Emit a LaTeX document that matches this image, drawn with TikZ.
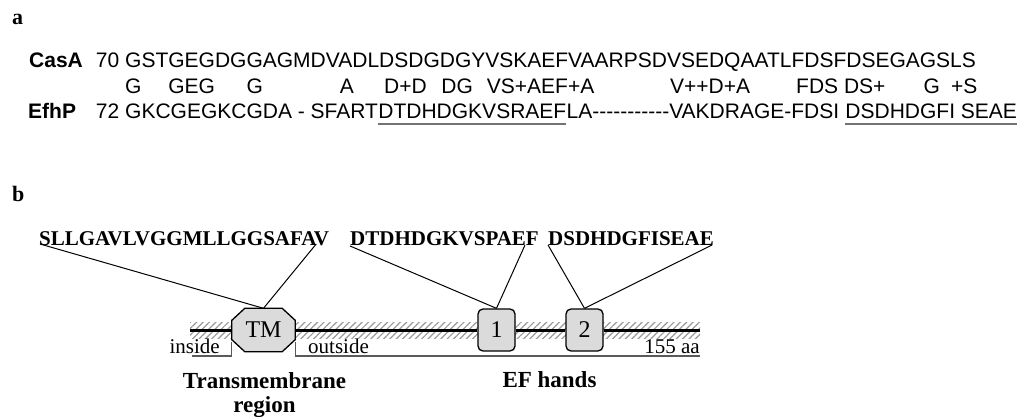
\documentclass[tikz,border=0pt]{standalone}
\usepackage{fontspec}
\setmainfont{Liberation Serif}
\newfontfamily\arial[Ligatures=TeXOff]{Liberation Sans}
\usetikzlibrary{calc,patterns.meta}
\pgfdeclarelayer{bg}
\pgfsetlayers{bg,main}
\tikzset{
  lbl/.style={font=\fontsize{22}{26}\selectfont\bfseries, inner sep=0pt, anchor=base west},
  seqa/.style={font=\arial\fontsize{21}{25}\selectfont, inner sep=0pt, anchor=base west},
  namea/.style={font=\arial\fontsize{21}{25}\selectfont\bfseries, inner sep=0pt, anchor=base west},
  seqb/.style={font=\fontsize{21}{25}\selectfont\bfseries, inner sep=0pt, anchor=base west},
  plainb/.style={font=\fontsize{21}{25}\selectfont, inner sep=0pt},
  capb/.style={font=\fontsize{23}{27}\selectfont\bfseries, inner sep=0pt, anchor=base},
  ulin/.style={draw=black!55, line width=1.3pt},
  conn/.style={draw=black, line width=1pt},
  membrane/.style={draw=black, line width=3pt},
  efbox/.style={draw=black, line width=1.3pt, fill=black!14, rounded corners=5pt,
    minimum width=37pt, minimum height=42pt, inner sep=0pt, font=\fontsize{24}{28}\selectfont},
  tmbox/.style={minimum width=63pt, minimum height=43pt, inner sep=0pt, font=\fontsize{24}{28}\selectfont},
  octo/.style={draw=black, line width=1.3pt, fill=black!14},
  bracket/.style={draw=black!65, line width=1.3pt},
  hatch/.style={pattern={Lines[angle=45,distance=4.5pt,line width=1.2pt]}, pattern color=black!40},
}
\begin{document}
\begin{tikzpicture}[x=1pt,y=-1pt]
\useasboundingbox (0,0) rectangle (1021,417);
% ---------- part a ----------
\node[lbl] (la) at (12,25) {a};
\node[namea] (casa) at (29,68) {CasA};
\node[seqa, anchor=base east] (n70) at (119.5,68) {70};
\node[seqa] (seq1) at (125,68) {GSTGEGDGGAGMDVADLDSDGDGYVSKAEFVAARPSDVSEDQAATLFDSFDSEGAGSLS};
% middle row
\node[seqa] (m1) at (125,94) {G};
\node[seqa] (m2) at (168.2,94) {GEG};
\node[seqa] (m3) at (246.4,94) {G};
\node[seqa] (m4) at (339.7,94) {A};
\node[seqa] (m5) at (384,94) {D+D};
\node[seqa] (m6) at (441.2,94) {DG};
\node[seqa] (m7) at (486.7,94) {VS+AEF+A};
\node[seqa] (m8) at (670,94) {V++D+A};
\node[seqa] (m9) at (796,94) {FDS DS+};
\node[seqa] (m10) at (923.5,94) {G};
\node[seqa] (m11) at (951,94) {+S};
% EfhP row
\node[namea] (efhp) at (28,119) {EfhP};
\node[seqa, anchor=base east] (n72) at (119.5,119) {72};
\node[seqa] (e1) at (125,119) {GKCGEGKCGDA - SFART};
\node[seqa] (e2) at (e1.base east) {DTDHDGKVSRAEF};
\node[seqa] (e3) at (e2.base east) {LA-----------VAKDRAGE-FDSI};
\node[seqa] (e4) at ($(e3.base east)+(5.83,0)$) {DSDHDGFI SEAE};
\draw[ulin] ($(e2.base west)+(0,5)$) -- ($(e2.base east)+(0,5)$);
\draw[ulin] ($(e4.base west)+(0,5)$) -- ($(e4.base east)+(0,5)$);
% ---------- part b ----------
\node[lbl] (lb) at (12,202) {b};
\node[seqb] (tmseq) at (39,245) {SLLGAVLVGGMLLGGSAFAV};
\node[seqb] (ef1seq) at (350,245) {DTDHDGKVSPAEF};
\node[seqb] (ef2seq) at (548,245) {DSDHDGFISEAE};
\node[tmbox] (tm) at (263.5,330) {TM};
\node[efbox] (b1) at (496.5,330) {1};
\node[efbox] (b2) at (584.5,330) {2};
\coordinate (mL) at (190,330);
\coordinate (mR) at (700,330);
\begin{pgfonlayer}{bg}
\fill[hatch] (190,322) rectangle (700,338);
\draw[membrane] (mL) -- (tm.west);
\draw[membrane] (tm.east) -- (b1.west);
\draw[membrane] (b1.east) -- (b2.west);
\draw[membrane] (b2.east) -- (mR);
\draw[octo] ($(tm.north west)+(13,0)$) -- ($(tm.north east)+(-13,0)$)
  -- ($(tm.north east)+(0,12)$) -- ($(tm.south east)+(0,-12)$)
  -- ($(tm.south east)+(-13,0)$) -- ($(tm.south west)+(13,0)$)
  -- ($(tm.south west)+(0,-12)$) -- ($(tm.north west)+(0,12)$) -- cycle;
\end{pgfonlayer}
% connectors
\draw[conn] ($(tmseq.base west)+(1,-1)$) -- (tm.north);
\draw[conn] ($(tmseq.base east)+(-13,-1)$) -- (tm.north);
\draw[conn] ($(ef1seq.base west)+(0,1)$) -- (b1.north);
\draw[conn] ($(ef1seq.base east)+(-14,0)$) -- (b1.north);
\draw[conn] (ef2seq.base west) -- (b2.north);
\draw[conn] ($(ef2seq.base east)+(-2,0)$) -- (b2.north);
% inside / outside brackets
\coordinate (inL) at (192,356);
\coordinate (outR) at (700,356);
\draw[bracket] (inL) -| ($(tm.west)+(0,12)$);
\draw[bracket] ($(tm.east)+(0,12)$) |- (outR);
\node[plainb, anchor=base east] (inside) at (220,353) {inside};
\node[plainb, anchor=base west] (outside) at (308,353) {outside};
\node[plainb, anchor=base east] (aa) at (700,353) {155 aa};
\node[capb] (tmlab) at (264.5,388) {Transmembrane};
\node[capb] (reg) at (264.5,412) {region};
\node[capb] (eflab) at (549.5,387) {EF hands};
\end{tikzpicture}
\end{document}
